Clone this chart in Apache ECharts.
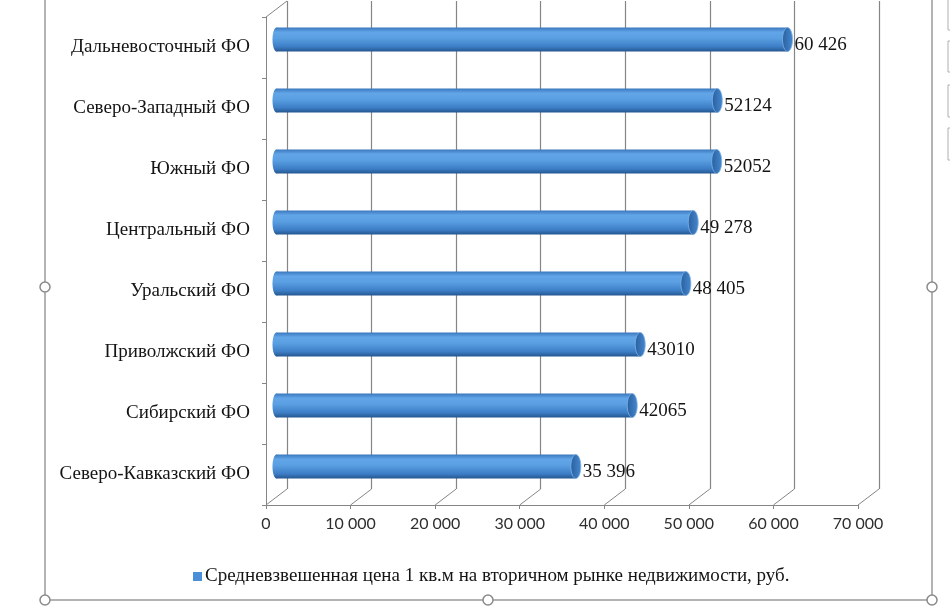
<!DOCTYPE html>
<html><head><meta charset="utf-8">
<script src="https://cdn.jsdelivr.net/npm/echarts@6/dist/echarts.min.js"></script>
<style>html,body{margin:0;padding:0;background:#fff}#c{width:950px;height:614px}</style>
</head><body><div id="c"></div>
<script>
const categories = ['Дальневосточный ФО','Северо-Западный ФО','Южный ФО','Центральный ФО','Уральский ФО','Приволжский ФО','Сибирский ФО','Северо-Кавказский ФО'];
const values = [60426, 52124, 52052, 49278, 48405, 43010, 42065, 35396];
const valueLabels = ['60 426','52124','52052','49 278','48 405','43010','42065','35 396'];
const axisTicks = [0, 10000, 20000, 30000, 40000, 50000, 60000, 70000];
const tickLabels = ['0','10 000','20 000','30 000','40 000','50 000','60 000','70 000'];
const seriesName = 'Средневзвешенная цена 1 кв.м на вторичном рынке недвижимости, руб.';

const GRID_W = 592, GRID_H = 488;
const DEPTH_X = 21, DEPTH_Y = 16;
const FRONT = {left: 266, top: 17};
const gray = '#858585';
const serif = '"Liberation Serif", "Times New Roman", serif';

const chart = echarts.init(document.getElementById('c'), null, {renderer: 'canvas'});

function xAx(gridIndex, extra) {
  return Object.assign({
    type: 'value', gridIndex: gridIndex, min: 0, max: 70000, interval: 10000,
    axisLine: {show: false}, axisTick: {show: false}, axisLabel: {show: false}, splitLine: {show: false}
  }, extra);
}
function yAx(gridIndex, extra) {
  return Object.assign({
    type: 'category', gridIndex: gridIndex, inverse: true, data: categories,
    axisLine: {show: false}, axisTick: {show: false}, axisLabel: {show: false}, splitLine: {show: false}
  }, extra);
}

const bodyGrad = new echarts.graphic.LinearGradient(0, 0, 0, 1, [
  {offset: 0, color: '#3a77bd'},
  {offset: 0.2, color: '#62a6e8'},
  {offset: 0.45, color: '#5a9fe2'},
  {offset: 0.8, color: '#3d7ec6'},
  {offset: 1, color: '#245690'}
]);
const capGrad = new echarts.graphic.LinearGradient(0, 0, 1, 0, [
  {offset: 0, color: '#28609f'},
  {offset: 1, color: '#4787ce'}
]);

chart.setOption({
  animation: false,
  backgroundColor: '#ffffff',
  grid: [
    {left: FRONT.left, top: FRONT.top, width: GRID_W, height: GRID_H},
    {left: FRONT.left + DEPTH_X, top: FRONT.top - DEPTH_Y, width: GRID_W, height: GRID_H},
    {left: FRONT.left + DEPTH_X / 2, top: FRONT.top - DEPTH_Y / 2, width: GRID_W, height: GRID_H}
  ],
  xAxis: [
    xAx(0, {
      axisLine: {show: true, lineStyle: {color: gray, width: 1}},
      axisTick: {show: true, length: 4, lineStyle: {color: gray}},
      axisLabel: {show: true, margin: 11, color: '#2e2e2e', fontFamily: 'Lato', fontSize: 16,
        formatter: function (v) { const i = axisTicks.indexOf(v); return i >= 0 ? tickLabels[i] : ''; }}
    }),
    xAx(1, {splitLine: {show: true, lineStyle: {color: gray, width: 1.2}}}),
    xAx(2, {})
  ],
  yAxis: [
    yAx(0, {
      axisLine: {show: true, lineStyle: {color: gray, width: 1}},
      axisTick: {show: true, length: 4, lineStyle: {color: gray}},
      axisLabel: {show: true, margin: 16, color: '#141414', fontFamily: serif, fontSize: 19}
    }),
    yAx(1, {}),
    yAx(2, {})
  ],
  legend: {
    data: [seriesName], left: 188, top: 562, icon: 'rect', itemWidth: 9, itemHeight: 9, itemGap: 4,
    textStyle: {fontFamily: serif, fontSize: 19, color: '#141414', padding: [0, 0, 0, -2]}
  },
  series: [
    {
      name: 'floor', type: 'custom', xAxisIndex: 0, yAxisIndex: 0, silent: true, z: 1,
      data: axisTicks.map(function (v) { return [v, 0]; }),
      renderItem: function (params, api) {
        const cs = params.coordSys;
        const x = api.coord([api.value(0), 0])[0];
        const bottom = cs.y + cs.height;
        const kids = [{type: 'line', shape: {x1: x, y1: bottom, x2: x + DEPTH_X, y2: bottom - DEPTH_Y},
          style: {stroke: gray, lineWidth: 1}}];
        if (api.value(0) === 0) {
          kids.push({type: 'line', shape: {x1: cs.x, y1: cs.y, x2: cs.x + DEPTH_X, y2: cs.y - DEPTH_Y},
            style: {stroke: gray, lineWidth: 1}});
        }
        return {type: 'group', children: kids};
      }
    },
    {
      name: seriesName, type: 'custom', xAxisIndex: 2, yAxisIndex: 2, z: 3,
      itemStyle: {color: '#4a8fd8'},
      data: values.map(function (v, i) { return [v, i]; }),
      renderItem: function (params, api) {
        const v = api.value(0), idx = api.value(1);
        const p0 = api.coord([0, idx]);
        const p1 = api.coord([v, idx]);
        const h = 24;
        return {type: 'group', children: [
          {type: 'rect', shape: {x: p0[0], y: p0[1] - h / 2, width: p1[0] - p0[0], height: h}, style: {fill: bodyGrad}},
          {type: 'ellipse', shape: {cx: p0[0], cy: p0[1], rx: 4, ry: h / 2}, style: {fill: bodyGrad}},
          {type: 'ellipse', shape: {cx: p1[0], cy: p1[1], rx: 5, ry: h / 2},
            style: {fill: capGrad, stroke: '#7fb4ea', lineWidth: 0.8}},
          {type: 'text', style: {text: valueLabels[idx], x: p1[0] + 7, y: p0[1] + 6,
            verticalAlign: 'middle', align: 'left', fontFamily: serif, fontSize: 19, fill: '#141414'}}
        ]};
      }
    }
  ],
  graphic: [
    {type: 'line', shape: {x1: 45, y1: 0, x2: 45, y2: 600}, style: {stroke: '#9a9a9a', lineWidth: 1.5}},
    {type: 'line', shape: {x1: 932, y1: 0, x2: 932, y2: 600}, style: {stroke: '#9a9a9a', lineWidth: 1.5}},
    {type: 'line', shape: {x1: 45, y1: 600, x2: 932, y2: 600}, style: {stroke: '#9a9a9a', lineWidth: 1.5}},
    {type: 'circle', shape: {cx: 45, cy: 287, r: 5}, style: {fill: '#fff', stroke: '#8a8a8a', lineWidth: 1.5}},
    {type: 'circle', shape: {cx: 45, cy: 600, r: 5}, style: {fill: '#fff', stroke: '#8a8a8a', lineWidth: 1.5}},
    {type: 'circle', shape: {cx: 488, cy: 600, r: 5}, style: {fill: '#fff', stroke: '#8a8a8a', lineWidth: 1.5}},
    {type: 'circle', shape: {cx: 932, cy: 287, r: 5}, style: {fill: '#fff', stroke: '#8a8a8a', lineWidth: 1.5}},
    {type: 'circle', shape: {cx: 932, cy: 600, r: 5}, style: {fill: '#fff', stroke: '#8a8a8a', lineWidth: 1.5}},
    {type: 'rect', shape: {x: 948, y: -2, width: 10, height: 32}, style: {fill: '#fff', stroke: '#b0b0b0', lineWidth: 1}},
    {type: 'rect', shape: {x: 948, y: 41, width: 10, height: 31}, style: {fill: '#fff', stroke: '#b0b0b0', lineWidth: 1}},
    {type: 'rect', shape: {x: 948, y: 85, width: 10, height: 32}, style: {fill: '#fff', stroke: '#b0b0b0', lineWidth: 1}},
    {type: 'rect', shape: {x: 948, y: 128, width: 10, height: 32}, style: {fill: '#fff', stroke: '#b0b0b0', lineWidth: 1}}
  ]
});
</script>
</body></html>
